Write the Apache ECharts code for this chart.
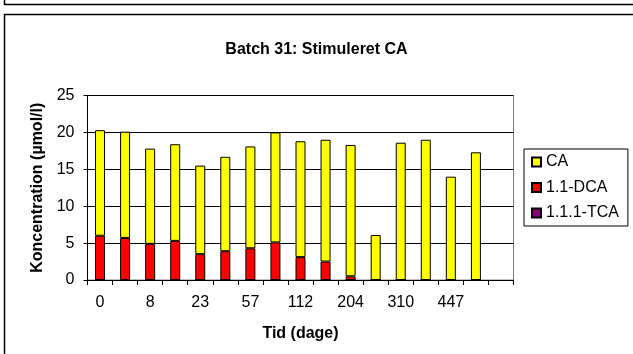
<!DOCTYPE html>
<html>
<head>
<meta charset="utf-8">
<script src="https://cdn.jsdelivr.net/npm/echarts@6/dist/echarts.min.js"></script>
<style>
html,body{margin:0;padding:0;background:#fff;}
#chart{width:633px;height:354px;}
</style>
</head>
<body>
<div id="chart"></div>
<script>
var categories = ['0','3','8','15','23','36','57','84','112','154','204','252','310','380','447','503',''];
var caValues   = [14.3,14.4,12.9,13.1,12.0,12.8,13.8,14.9,15.7,16.5,17.8,6.1,18.6,19.0,14.0,17.3];
var dcaValues  = [6.0,5.7,4.9,5.3,3.5,3.9,4.3,5.1,3.1,2.5,0.5,0,0,0,0,0];
var tcaValues  = [0,0,0,0,0,0,0,0,0,0,0,0,0,0,0,0];
var yTicks = [0,5,10,15,20,25];

var FONT = 'Liberation Sans, Arial, sans-serif';
var chart = echarts.init(document.getElementById('chart'), null, {renderer:'canvas'});
var option = {
  backgroundColor:'#fff',
  animation:false,
  title:{
    text:'Batch 31: Stimuleret CA',
    left:'center', top:37,
    textStyle:{fontFamily:FONT,fontSize:16,fontWeight:'bold',color:'#000'}
  },
  graphic:[
    {type:'polyline',shape:{points:[[4.5,0],[4.5,4.5],[633,4.5]]},style:{stroke:'#000',lineWidth:1.5,fill:null},silent:true},
    {type:'polyline',shape:{points:[[4.5,354],[4.5,14.5],[633,14.5]]},style:{stroke:'#000',lineWidth:1.5,fill:null},silent:true}
  ],
  legend:{
    orient:'vertical',
    left:524, top:149,
    data:['CA','1.1-DCA','1.1.1-TCA'],
    itemWidth:9, itemHeight:9, itemGap:9.5,
    icon:'rect',
    padding:[5,9,5,7],
    borderColor:'#000', borderWidth:1,
    textStyle:{fontFamily:FONT,fontSize:16,color:'#000'}
  },
  grid:{
    left:87.5, top:95.5, right:119.5, bottom:74,
    show:true, borderColor:'#808080', borderWidth:1, backgroundColor:'transparent'
  },
  xAxis:{
    type:'category',
    data:categories,
    boundaryGap:true,
    name:'Tid (dage)',
    nameLocation:'middle',
    nameGap:46,
    nameTextStyle:{fontFamily:FONT,fontSize:16,fontWeight:'bold',color:'#000'},
    axisLine:{lineStyle:{color:'#000',width:1}},
    axisTick:{show:true,interval:0,length:5,lineStyle:{color:'#000'}},
    axisLabel:{interval:1,margin:15,fontFamily:FONT,fontSize:16,color:'#000'},
    splitLine:{show:false}
  },
  yAxis:{
    type:'value',
    min:yTicks[0], max:yTicks[yTicks.length-1], interval:5,
    name:'Koncentration (µmol/l)',
    nameLocation:'middle',
    nameRotate:90,
    nameGap:40,
    nameTextStyle:{fontFamily:FONT,fontSize:16,fontWeight:'bold',color:'#000'},
    axisLine:{show:true,lineStyle:{color:'#000',width:1}},
    axisTick:{show:true,length:4,lineStyle:{color:'#000'}},
    axisLabel:{margin:13,fontFamily:FONT,fontSize:16,color:'#000'},
    splitLine:{show:true,lineStyle:{color:'#000',width:1}}
  },
  series:[
    {name:'1.1.1-TCA',type:'bar',stack:'s',data:tcaValues,barWidth:10,
     itemStyle:{color:'#800080',borderColor:'#000',borderWidth:1}},
    {name:'1.1-DCA',type:'bar',stack:'s',data:dcaValues,barWidth:10,
     itemStyle:{color:'#FF0000',borderColor:'#000',borderWidth:1}},
    {name:'CA',type:'bar',stack:'s',data:caValues,barWidth:10,
     itemStyle:{color:'#FFFF00',borderColor:'#000',borderWidth:1}}
  ]
};
chart.setOption(option);
</script>
</body>
</html>
